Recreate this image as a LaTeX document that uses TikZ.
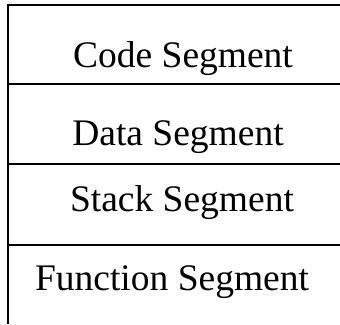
\documentclass[tikz,border=0pt]{standalone}
\usepackage{fontspec}
\setmainfont{Liberation Serif}
\usetikzlibrary{positioning}

\begin{document}
\begin{tikzpicture}[
   x=1pt, y=-1pt,
   seg/.style={font=\fontsize{37.5}{45}\selectfont, inner sep=0pt, anchor=base},
   rule/.style={line width=2pt}]
  \useasboundingbox (0,0) rectangle (340,324);
  % outer frame, open on the right and at the bottom
  \coordinate (tl) at (8,5);
  \coordinate (tr) at (340,5);
  \coordinate (bl) at (8,324);
  \draw[rule] (tr) -- (tl) -- (bl);
  % segment borders
  \foreach \y/\name in {84/a, 164/b, 245/c} {
    \coordinate (\name l) at (8,\y);
    \coordinate (\name r) at (340,\y);
    \draw[rule] (\name l) -- (\name r);
  }
  \node[seg] (code)  at (183,67)  {Code Segment};
  \node[seg] (data)  at (178,145) {Data Segment};
  \node[seg] (stack) at (182,211) {Stack Segment};
  \node[seg] (func)  at (172,290) {Function Segment};
\end{tikzpicture}
\end{document}
